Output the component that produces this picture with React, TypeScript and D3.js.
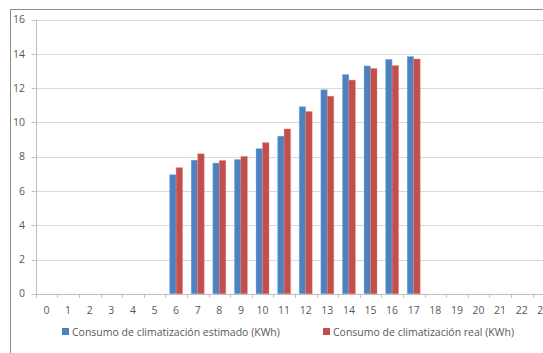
import React from "react";
import * as d3 from "d3";

const categories: string[] = Array.from({ length: 24 }, (_, i) => String(i));
const estimado: (number | null)[] = [
  null, null, null, null, null, null,
  6.95, 7.8, 7.63, 7.84, 8.47, 9.2, 10.92, 11.91, 12.8, 13.3, 13.68, 13.85,
  null, null, null, null, null, null,
];
const real: (number | null)[] = [
  null, null, null, null, null, null,
  7.36, 8.17, 7.78, 8.02, 8.82, 9.62, 10.64, 11.53, 12.47, 13.15, 13.32, 13.7,
  null, null, null, null, null, null,
];
const yTicks: number[] = [0, 2, 4, 6, 8, 10, 12, 14, 16];
const seriesNames: string[] = [
  "Consumo de climatización estimado (KWh)",
  "Consumo de climatización real (KWh)",
];
const colors: string[] = ["#4F81BD", "#C0504D"];

export default function App() {
  const W = 543;
  const H = 353;
  const left = 35.7;
  const plotW = 24 * 21.6;
  const top = 19.6;
  const bottom = 293.8;
  const x = d3.scaleBand<string>().domain(categories).range([left, left + plotW]).padding(0);
  const y = d3.scaleLinear().domain([0, 16]).range([bottom, top]);
  const barW = 6.5;
  const font = "'Open Sans', sans-serif";
  const series = [estimado, real];

  return (
    <svg
      width={W}
      height={H}
      style={{ position: "absolute", left: 0, top: 0, background: "#fff" }}
      fontFamily={font}
    >
      <rect x={10.5} y={9.5} width={W} height={H} fill="#fff" stroke="#8c8c8c" strokeWidth={1} />
      {yTicks.filter((t) => t > 0).map((t) => (
        <line key={"g" + t} x1={left} x2={W} y1={Math.round(y(t)) + 0.5} y2={Math.round(y(t)) + 0.5} stroke="#d9d9d9" strokeWidth={1} />
      ))}
      {yTicks.map((t) => (
        <g key={"yt" + t}>
          <line x1={left - 4} x2={left} y1={Math.round(y(t)) + 0.5} y2={Math.round(y(t)) + 0.5} stroke="#bfbfbf" />
          <text x={25} y={y(t)} dy="0.35em" textAnchor="end" fontSize={10.5} fill="#595959">
            {t}
          </text>
        </g>
      ))}
      <line x1={Math.round(left) + 0.5} x2={Math.round(left) + 0.5} y1={top} y2={bottom} stroke="#bfbfbf" />
      <line x1={left - 4} x2={W} y1={Math.round(bottom) + 0.5} y2={Math.round(bottom) + 0.5} stroke="#bfbfbf" />
      {categories.map((c) => (
        <g key={"xt" + c}>
          <line
            x1={Math.round(x(c)!) + 0.5}
            x2={Math.round(x(c)!) + 0.5}
            y1={bottom}
            y2={bottom + 4}
            stroke="#bfbfbf"
          />
          <text x={x(c)! + x.bandwidth() / 2} y={310} dy="0.35em" textAnchor="middle" fontSize={10.5} fill="#595959">
            {c}
          </text>
        </g>
      ))}
      {series.map((vals, si) =>
        vals.map((v, i) =>
          v == null ? null : (
            <rect
              key={"b" + si + "-" + i}
              x={x(categories[i])! + x.bandwidth() / 2 - barW + si * barW}
              y={y(v)}
              width={barW}
              height={y(0) - y(v)}
              fill={colors[si]}
              stroke={d3.color(colors[si])!.brighter(1.2).formatHex()}
              strokeOpacity={0.45}
              strokeWidth={0.8}
            />
          )
        )
      )}
      <g>
        <rect x={62} y={328} width={7} height={7} fill={colors[0]} />
        <text x={72} y={332} dy="0.35em" fontSize={10.5} fill="#595959">
          {seriesNames[0]}
        </text>
        <rect x={323} y={328} width={7} height={7} fill={colors[1]} />
        <text x={333} y={332} dy="0.35em" fontSize={10.5} fill="#595959">
          {seriesNames[1]}
        </text>
      </g>
    </svg>
  );
}
